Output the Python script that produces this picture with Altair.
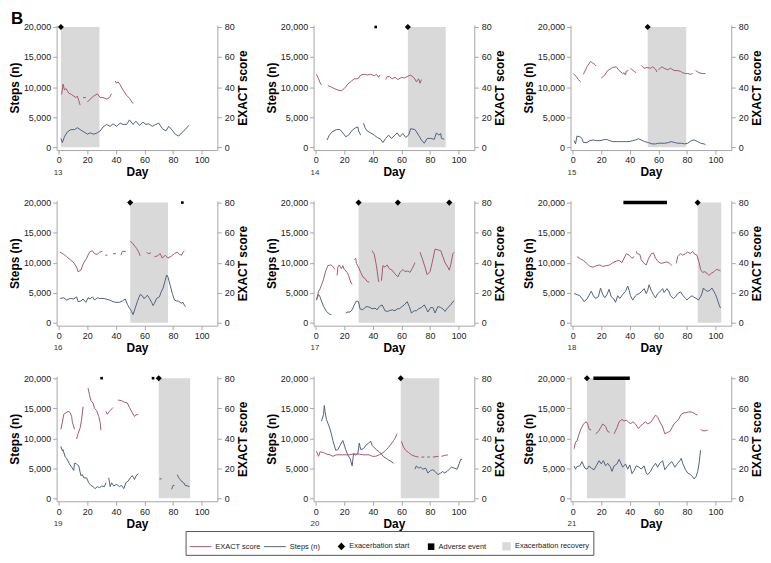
import altair as alt
import pandas as pd

# ---------------- data ----------------
PANELS = [13, 14, 15, 16, 17, 18, 19, 20, 21]

EXACT_13 = [
    [(2, 35), (3, 42), (4, 38), (5, 39), (7, 36), (9, 35), (12, 33), (13, 34), (14, 31), (15, 28)],
    [(17, 33), (19, 33)],
    [(20, 30), (22, 32), (24.5, 34), (27, 35.5), (29, 33), (31, 33), (33.5, 32), (35.5, 33), (37, 35.5)],
    [(39.5, 44), (40.5, 42.5), (41.5, 43.5), (43, 41.5), (45, 38), (47.5, 34.5), (49.5, 32.5), (52, 29)],
]
STEPS_13 = [
    [(1.5, 1460), (2.5, 760), (4, 1730), (6, 2540), (8.5, 2920), (11, 2920), (13, 3240), (15, 2920),
     (17.5, 2540), (20, 2160), (22, 2380), (24.5, 2160), (27, 2380), (29, 2700), (31, 3350), (33.5, 3780),
     (36, 3460), (38, 3890), (40.5, 3460), (43, 4000), (45, 3780), (47.5, 3780), (49.5, 4540), (52, 3780),
     (54, 4320), (56.5, 3620), (59, 4160), (61, 3780), (63, 3890), (65.5, 3460), (68, 3780), (70, 4000),
     (72.5, 3080), (75, 2700), (77, 3460), (79.5, 2810), (81.5, 2160), (84, 1840), (86, 2380), (88.5, 2920),
     (91, 3620)],
]

EXACT_14 = [
    [(0.5, 48.5), (2, 45.5), (3, 43), (4, 41.5)],
    [(8.5, 41), (11, 40), (13, 39), (15.5, 38), (18, 37.5), (20, 39), (22.5, 42), (25, 44), (27, 45.5),
     (29.5, 45.5), (31.5, 48), (34, 48.5), (36, 48), (38.5, 48.5), (41, 47.5), (42.5, 48.5), (44, 46.5), (45, 48)],
    [(49, 45), (50, 47), (51.5, 47), (53.5, 45.5), (55.5, 46.5), (57.5, 45), (60, 46.5), (62, 46), (64, 47),
     (66.5, 48), (69, 46), (70.5, 43.5), (72, 45.5), (73, 42.5), (74, 45)],
]
STEPS_14 = [
    [(8, 1190), (9.5, 2000), (11.5, 2540), (14.5, 2920), (17, 2920), (19, 2380), (21, 1730), (23, 2000),
     (25.5, 2810), (28, 3240), (29.5, 3350), (30, 2700), (31.5, 2000)],
    [(33.5, 4000), (34.5, 3240), (36, 2700), (38.5, 2380), (41, 2000), (43, 1620), (45.5, 1300), (47, 760),
     (49, 1460), (51, 2000), (53, 1460), (55.5, 2000), (57, 2380), (59, 1730), (61, 2270), (63, 1620),
     (65, 2000), (66.5, 3080), (69.5, 2920), (72, 2000), (74, 1190), (76, 650), (78, 1460), (80.5, 1460),
     (83, 1300), (84.5, 2380), (86, 2000), (87.5, 2270), (88, 1460), (90, 1300)],
]

EXACT_15 = [
    [(0.5, 49), (2.5, 47), (4, 45), (5.5, 43.5)],
    [(7.5, 48.5), (10, 53.5), (12.5, 57), (14, 56), (15.5, 55), (16.5, 54)],
    [(20, 46), (22.5, 48), (24.5, 51), (28, 53), (30.5, 53.5), (32.5, 51), (35, 49), (36, 49.5), (37, 48),
     (37.5, 50.5), (39, 51)],
    [(40.5, 52.5), (43, 50.5), (44.5, 49.5)],
    [(48, 54.5), (50, 52.5), (52, 53), (54.5, 52.5), (56, 53.5), (58, 52), (59, 50)],
    [(60, 51.5), (62.5, 53.5), (64, 52.5), (66.5, 51.5), (68.5, 52.5), (71, 51), (73, 51), (75.5, 50.5),
     (77, 49.5), (79, 49), (80.5, 49), (82.5, 48.5), (84, 49)],
    [(86, 51), (88.5, 49.5), (91, 49), (93, 49)],
]
STEPS_15 = [
    [(1, 1080), (2, 540), (3, 1840), (5, 1730), (6.5, 1460), (7.5, 760), (10, 760), (12, 1080), (14.5, 1190),
     (16.5, 1080), (19, 1080), (21, 1190), (23.5, 1300), (26, 1080), (28, 920), (30.5, 920), (32.5, 920),
     (35, 920), (37, 920), (39.5, 920), (42, 1080), (44, 1190), (46, 1400), (48, 1190), (50.5, 920), (53, 760),
     (55.5, 540), (58, 540), (60, 650), (62.5, 650), (64.5, 650), (67, 760), (69, 920), (71.5, 760),
     (73.5, 650), (76, 650), (78.5, 540), (80.5, 650), (83, 1080), (85, 1190), (87.5, 920), (89.5, 650),
     (92, 540), (93, 380)],
]

EXACT_16 = [
    [(1, 47), (3.5, 45.5), (5.5, 44), (8, 42), (10.5, 40), (12.5, 37), (13.5, 34), (15.5, 35), (17, 39),
     (19.5, 43), (21.5, 47), (23.5, 48), (25, 46), (27, 45.5), (28.5, 47), (30.5, 47.5)],
    [(32.5, 45), (34, 45)],
    [(38, 46), (40, 46)],
    [(43.5, 45), (44.5, 47.5), (47, 47.5)],
    [(50, 54.5), (52, 52.5), (54.5, 49.5), (56, 47), (57, 44.5)],
    [(61.5, 47), (62.5, 46), (64.5, 46.5)],
    [(67, 44), (69, 44.5), (71, 46), (72.5, 43), (74.5, 45), (76.5, 43), (79, 44.5), (81, 46), (83, 47),
     (84.5, 45.5), (86, 45), (87, 47), (88, 48)],
]
STEPS_16 = [
    [(1, 4050), (3.5, 4160), (5.5, 3780), (8, 4050), (10.5, 3950), (12.5, 4320), (13.5, 3510), (15.5, 3620),
     (17, 3950), (19, 3400), (20.5, 4160), (22, 3950), (23.5, 4320), (25, 3780), (27, 4160), (28.5, 4050),
     (31, 4050), (33, 3950), (35.5, 3780), (38, 3510), (40, 3400), (42.5, 3400), (44.5, 3620), (46.5, 3950),
     (48, 3080), (49.5, 2430), (51, 1890), (52, 1350), (53.5, 2430), (55, 3510), (56, 4160), (57, 4700),
     (58.5, 4490), (59.5, 4050), (60.5, 4160), (62, 4590), (63.5, 4050), (65, 3400), (66, 2860), (67, 3240),
     (68.5, 4050), (70.5, 4320), (71.5, 5030), (73, 5780), (74.5, 7030), (75.5, 7950), (76.5, 7570),
     (78, 6220), (79.5, 4860), (81, 3780), (82.5, 3620), (84, 3620), (85.5, 3240), (87, 3400), (88, 2860),
     (89, 2700)],
]

EXACT_17 = [
    [(0.5, 15), (2, 21), (3, 22.5), (4, 25), (5.5, 29), (7, 34.5), (8.5, 38), (10.5, 38.5), (11.5, 38), (13.5, 35.5)],
    [(15, 31.5), (15.5, 37), (16.5, 38.5), (18, 36), (19, 38), (20, 35.5), (22, 33.5), (23, 31.5), (24.5, 27),
     (25.5, 25.5)],
    [(27, 42), (28, 43), (28.5, 39.5), (30, 37), (31.5, 33.5), (33, 30.5), (34.5, 29.5), (36, 27.5), (37.5, 27)],
    [(39.5, 48), (41, 45.5), (42.5, 38), (44, 27.5), (44.5, 27.5)],
    [(46, 28), (47, 38), (48.5, 37), (50, 38.5), (51.5, 36), (53.5, 35), (55.5, 32.5), (57.5, 30.5), (59, 33.5),
     (61, 35.5), (62.5, 34), (64.5, 34.5), (66, 33.5), (67.5, 36), (69.5, 40)],
    [(73, 47), (74.5, 43), (76.5, 37), (78, 32), (80, 34), (81.5, 40), (83.5, 49), (85.5, 48.5), (87.5, 48),
     (89, 44), (90.5, 40), (92.5, 37), (93.5, 35), (94.5, 38.5), (96, 46), (97, 47)],
]
STEPS_17 = [
    [(0.5, 3780), (2, 4700), (3, 4320), (4, 3620), (5.5, 2700), (7.5, 1890), (9.5, 1460), (11, 1350)],
    [(21, 1620), (22.5, 1780), (24, 1780), (25.5, 2160), (27, 2970), (28.5, 3620), (30, 3510), (31, 2320),
     (33, 2160), (34.5, 2540), (36, 2700), (38, 2540), (39.5, 2320), (41.5, 2430), (43, 2160), (44.5, 2700),
     (46.5, 2970), (48.5, 2000), (50, 1890), (51.5, 2000), (53.5, 2160), (55.5, 2000), (57, 2320),
     (58.5, 2320), (60.5, 2700), (62, 2970), (64, 3510), (65.5, 2700), (67, 1620), (69, 2000), (70.5, 2000),
     (72, 2320), (74, 2540), (76, 2970), (77.5, 2320), (78.5, 1780), (80.5, 2540), (82, 2540), (83.5, 1620),
     (85.5, 2700), (87.5, 2540), (89, 2320), (90.5, 1890), (92.5, 2540), (94.5, 2970), (96, 3510), (97, 3620)],
]

EXACT_18 = [
    [(3, 44), (5.5, 42.5), (7.5, 41.5), (10, 39.5), (12, 37.5), (14.5, 37), (16.5, 38), (19, 38.5), (21, 37.5),
     (23.5, 38), (26, 38.5), (28, 40), (30.5, 41), (32.5, 41.5), (34.5, 40), (36, 43), (37.5, 46), (39.5, 45),
     (41.5, 43), (43, 44)],
    [(44.5, 47.5), (45, 46), (47, 45.5), (48, 42), (50, 39.5), (51.5, 38.5), (53, 42.5), (55, 46), (56.5, 46.5),
     (58, 43), (60, 40.5), (62, 39.5), (64, 40), (66, 40.5), (68, 39.5), (69.5, 38)],
    [(72.5, 39.5), (73.5, 44), (75.5, 46), (77, 45), (79, 46), (80.5, 47), (82.5, 46), (84, 47.5), (85, 46),
     (87, 45), (88.5, 40), (89.5, 35.5), (91, 33.5), (92.5, 34), (94, 33), (95.5, 31.5), (97, 33), (99, 34),
     (100.5, 35.5), (102.5, 35), (103.5, 34.5)],
]
STEPS_18 = [
    [(1, 4860), (3, 4700), (5, 4490), (6.5, 4050), (8, 3510), (10, 3950), (11.5, 4590), (13, 5240),
     (14.5, 4490), (16, 4050), (18, 4320), (19.5, 5780), (21, 4700), (22.5, 4160), (24, 4700), (25.5, 5570),
     (27, 4320), (28.5, 4050), (30, 3400), (31.5, 4490), (33, 4050), (35, 4700), (37, 5240), (38.5, 6110),
     (39.5, 5400), (40.5, 4490), (42, 3780), (44, 4490), (45, 4700), (46.5, 4860), (48, 5140), (50, 5680),
     (51.5, 4860), (52.5, 5400), (53.5, 6320), (55, 5400), (56.5, 4700), (58, 4160), (59.5, 4860), (61, 5140),
     (63, 5680), (64, 5030), (66, 5680), (67.5, 5140), (68.5, 4490), (70.5, 4050), (72, 4320), (73.5, 4860),
     (75.5, 5140), (77, 4590), (79, 4050), (80, 3780), (81.5, 4160), (83.5, 4490), (84.5, 4320), (86.5, 4050),
     (88, 3780), (89.5, 4320), (90.5, 4860), (91.5, 5780), (93, 5400), (94.5, 5240), (96, 5400), (97.5, 5780),
     (99, 5140), (100, 4700), (101, 4050), (102.5, 2970), (103.5, 2430)],
]

EXACT_19 = [
    [(1.5, 46), (2.5, 50.5), (3.5, 56), (5, 57), (6.5, 58), (8, 57), (9, 54.5), (9.5, 51), (11, 46)],
    [(12.5, 39.5), (13.5, 43), (15, 47), (16, 52.5), (17, 61)],
    [(20.5, 73.5), (21.5, 69), (22.5, 65), (24, 63.5), (25, 60), (26.5, 58.5), (28, 54.5), (29, 50.5), (29.5, 45.5)],
    [(33, 58), (34, 56), (35.5, 58), (37, 59.5), (38, 60.5)],
    [(41.5, 65.5), (44, 65), (46, 64), (48, 63.5), (49.5, 60.5), (51.5, 57), (53, 54.5), (54, 55.5), (55.5, 56)],
]
STEPS_19 = [
    [(1.5, 8650), (2.5, 7890), (3, 8100), (4.5, 6920), (5.5, 6650), (7.5, 5730), (9, 5190), (10.5, 4650),
     (11, 5840), (12.5, 5730), (14, 5410), (15.5, 3780), (16.5, 3950), (17.5, 3410), (19.5, 3410), (21, 2590),
     (22.5, 2160), (24, 1950), (25.5, 1620), (27, 1950), (28.5, 1780), (30, 2050), (32, 1950), (33, 2590)],
    [(35, 3410), (36, 1950), (37, 2590), (38.5, 2050), (40.5, 2320), (42.5, 1950), (44, 2160), (45.5, 1620),
     (47, 2590), (48.5, 2860), (50, 3410), (51.5, 3780), (53, 3140), (54, 3680), (55.5, 4110)],
    [(70.5, 3240), (72, 3240)],
    [(79, 1510), (80, 2160), (81, 2160)],
    [(83, 3950), (84, 3410), (85, 3140), (86.5, 2700), (87.5, 2590), (88.5, 2160), (90.5, 2050), (91.5, 1950)],
]

EXACT_20 = [
    [(0.5, 31.5), (2, 28), (3, 31), (5.5, 30.5), (7.5, 29.5), (10, 29), (12, 28), (14.5, 29), (17, 29),
     (19, 29), (21.5, 29), (23.5, 29), (26, 29.5), (28, 29.5), (30.5, 29.5), (33, 29), (35, 29), (37.5, 29),
     (39.5, 28), (42, 28), (44.5, 29), (46.5, 30), (49, 32), (51, 34), (53.5, 37), (54.5, 38.5), (55.5, 40),
     (57, 43)],
    [(60, 38), (61.5, 34), (63, 32), (65, 30.5), (67, 29), (69.5, 28), (72, 27.5)],
    [(74, 27.5), (76, 27.5)],
    [(78, 27.5), (80, 27.5)],
    [(82, 27.5), (86, 28)],
    [(88, 28), (90, 28.5), (92.5, 29)],
]
STEPS_20 = [
    [(4, 12860), (5.5, 13950), (6, 15460), (6.5, 14490), (7.5, 13140), (9.5, 11890), (11, 10700), (12, 9620),
     (14, 8000), (15.5, 8110), (17, 8810), (19, 9620), (21, 8110), (22.5, 7190), (24, 6650), (25.5, 5410),
     (26.5, 7460), (28, 7190), (29.5, 7460), (30.5, 9190), (31.5, 8110), (33.5, 8270), (35, 8810), (37, 9190),
     (38.5, 9510), (39.5, 8810), (41, 8430), (42.5, 8110), (44.5, 7730), (46, 7350), (47.5, 6920), (49.5, 6650),
     (51, 6380), (53, 6110), (54.5, 5840)],
    [(69.5, 4860), (70.5, 5410), (72, 5030), (73.5, 5190), (75, 4860), (77, 5030), (78.5, 4220), (80.5, 4650),
     (82, 4760), (83.5, 4490), (85.5, 3950), (87.5, 4220), (89, 4490), (90, 4220), (92, 4490), (93.5, 4860),
     (95, 5190), (97, 5030), (99, 4860), (100.5, 5840), (101.5, 6490), (102.5, 6490)],
]

EXACT_21 = [
    [(1, 33), (2, 37.5), (3, 38), (4, 41.5), (5.5, 45.5), (7.5, 49.5), (9.5, 51), (10.5, 49.5), (11.5, 46), (13, 45.5)],
    [(16, 43), (18, 44.5), (19.5, 47), (21, 49.5), (23, 48), (24.5, 44.5), (26, 44)],
    [(29, 43), (31, 47), (32.5, 51), (34.5, 52.5), (36, 51.5), (37.5, 52), (39, 51), (40.5, 49.5), (42, 51),
     (44, 49.5), (46, 46.5), (47.5, 48), (49, 49.5), (51, 51), (52.5, 49.5), (54.5, 50.5), (56, 52.5), (58, 55.5),
     (59.5, 54), (61, 51), (63, 47.5), (64.5, 43), (66.5, 44), (68, 44.5), (69.5, 47), (71, 49.5), (72.5, 51),
     (74, 52.5), (76, 56), (78, 57), (79.5, 57), (81, 57.5), (83, 57.5), (84.5, 57), (86, 56), (87.5, 55.5)],
    [(89.5, 46), (91, 45), (93, 45), (94.5, 45.5)],
]
STEPS_21 = [
    [(1, 5410), (2, 4860), (3, 5300), (5, 5410), (6.5, 6110), (7.5, 5570), (8.5, 5030), (10, 4860), (11.5, 5410),
     (13, 5030), (15, 4760), (16.5, 5410), (18.5, 6270), (20, 5730), (21.5, 6270), (23, 5410), (24.5, 5840),
     (26.5, 5190), (27.5, 4490), (29, 5410), (31, 5730), (32.5, 6490), (34, 5730), (35, 5190), (37, 5730),
     (38.5, 4860), (40, 5570), (41.5, 4110), (43, 4650), (44.5, 5410), (46.5, 5190), (48, 4860), (50, 5410),
     (51.5, 4220), (52.5, 3950), (54.5, 4490), (56, 5190), (58, 5840), (59.5, 5190), (61, 5840), (63, 6270),
     (64.5, 4760), (66.5, 5410), (68, 5840), (69.5, 6110), (71.5, 5190), (73.5, 5840), (75, 6270), (76, 6650),
     (77, 5840), (79, 4760), (80.5, 4220), (82.5, 3950), (84, 3570), (85, 3240), (86.5, 3680), (87.5, 4490),
     (88.5, 5840), (89.5, 8000)],
]

EXACT_SERIES = [EXACT_13, EXACT_14, EXACT_15, EXACT_16, EXACT_17, EXACT_18, EXACT_19, EXACT_20, EXACT_21]
STEPS_SERIES = [STEPS_13, STEPS_14, STEPS_15, STEPS_16, STEPS_17, STEPS_18, STEPS_19, STEPS_20, STEPS_21]

RECOVERY_START = [1.5, 64.5, 52.5, 50, 30, 87.5, 70, 59.5, 10]
RECOVERY_END = [28.5, 91, 79.5, 76.5, 97.5, 104, 92, 86.5, 37]
EXAC_START_DAYS = [[1.5], [64.5], [52.5], [50], [30, 57.5, 93.5], [87.5], [70], [59.5], [10]]
ADVERSE_DAYS = [[], [42], [], [86.5], [], [], [30, 66], [], []]
ADVERSE_SPANS = [[], [], [], [], [], [(35.5, 66)], [], [], [(14.5, 40)]]

STEPS_TOP = 20000          # events are drawn at the top of the steps axis
STEPS_TICKS = [0, 5000, 10000, 15000, 20000]
EXACT_TICKS = [0, 20, 40, 60, 80]
DAY_TICKS = [0, 20, 40, 60, 80, 100]

LEGEND_ITEMS = ["EXACT score", "Steps (n)", "Exacerbation start", "Adverse event", "Exacerbation recovery"]

# ---------------- styling ----------------
FONT = "Liberation Sans"
EXACT_COLOR = "#a5596a"
STEPS_COLOR = "#50607f"
SHADE_COLOR = "#d9d9d9"
AXIS_GRAY = "#a6a6a6"
W, H = 162, 126
X_DOM = [-1.5, 111]
S_DOM = [-484, 20322]
E_DOM = [S_DOM[0] / 250, S_DOM[1] / 250]

LEGEND_COLORS = [EXACT_COLOR, STEPS_COLOR, "black", "black", SHADE_COLOR]
LEGEND_SHAPES = [
    "M-1,-0.045H1V0.045H-1Z",
    "M-1,-0.045H1V0.045H-1Z",
    "M0.3,0L0.64,-0.36L0.98,0L0.64,0.36Z",
    "M0.38,-0.3H0.98V0.3H0.38Z",
    "M0.2,-0.38H0.98V0.38H0.2Z",
]


def seg_frame(segs, name):
    rows = []
    for i, seg in enumerate(segs):
        for d, v in seg:
            rows.append({"seg": i, "day": d, name: v})
    return pd.DataFrame(rows)


x_scale = alt.Scale(domain=X_DOM, nice=False, zero=False)
s_scale = alt.Scale(domain=S_DOM, nice=False, zero=False)
e_scale = alt.Scale(domain=E_DOM, nice=False, zero=False)

x_axis = alt.Axis(values=DAY_TICKS, title="Day")
left_axis = alt.Axis(values=STEPS_TICKS, labelExpr="format(datum.value, ',')", title="Steps (n)", titlePadding=2)
right_axis = alt.Axis(values=EXACT_TICKS, title="EXACT score", orient="right", titleAngle=270,
                      titleBaseline="top", titlePadding=3, labelPadding=3)

leg = alt.Legend(title=None, orient="none", legendX=130, legendY=510, direction="horizontal",
                 symbolSize=484, symbolStrokeWidth=0, symbolOpacity=1, labelFontSize=7.5, labelFont=FONT,
                 labelColor="#222", labelOffset=4, columnPadding=3, padding=4, strokeColor="#555",
                 fillColor="white")


def X(f):
    return alt.X(f"{f}:Q", scale=x_scale, axis=x_axis)


def YL(f):
    return alt.Y(f"{f}:Q", scale=s_scale, axis=left_axis)


def panel(i):
    pid = PANELS[i]
    layers = []
    shade = pd.DataFrame({"start": [RECOVERY_START[i]], "end": [RECOVERY_END[i]], "lo": [0], "hi": [STEPS_TOP]})
    layers.append(alt.Chart(shade).mark_rect(color=SHADE_COLOR).encode(
        x=X("start"), x2="end:Q", y=YL("lo"), y2="hi:Q"))
    steps = seg_frame(STEPS_SERIES[i], "steps")
    layers.append(alt.Chart(steps).mark_line(color=STEPS_COLOR, strokeWidth=1).encode(
        x=X("day"), y=YL("steps"), detail="seg:N", order="day:Q"))
    if ADVERSE_SPANS[i]:
        spans = pd.DataFrame({"start": [a for a, b in ADVERSE_SPANS[i]], "end": [b for a, b in ADVERSE_SPANS[i]],
                              "top": [STEPS_TOP] * len(ADVERSE_SPANS[i])})
        layers.append(alt.Chart(spans).mark_rule(color="black", strokeWidth=3.5).encode(
            x=X("start"), x2="end:Q", y=YL("top")))
    if ADVERSE_DAYS[i]:
        dots = pd.DataFrame({"day": ADVERSE_DAYS[i], "top": [STEPS_TOP] * len(ADVERSE_DAYS[i])})
        layers.append(alt.Chart(dots).mark_square(color="black", size=7, opacity=1).encode(
            x=X("day"), y=YL("top")))
    dia = pd.DataFrame({"day": EXAC_START_DAYS[i], "top": [STEPS_TOP] * len(EXAC_START_DAYS[i])})
    layers.append(alt.Chart(dia).mark_point(shape="diamond", filled=True, color="black", size=38, opacity=1).encode(
        x=X("day"), y=YL("top")))
    layers.append(alt.Chart(pd.DataFrame({"label": [str(pid)]})).mark_text(
        align="left", baseline="middle", fontSize=8, font=FONT, color="#333").encode(
        text="label:N", x=alt.value(-3), y=alt.value(H + 23)))
    if i == 0:
        layers.append(alt.Chart(pd.DataFrame({"label": ["B"]})).mark_text(
            align="left", baseline="alphabetic", fontSize=17, fontWeight="bold", font=FONT, color="black").encode(
            text="label:N", x=alt.value(-46), y=alt.value(-1)))
        layers.append(alt.Chart(pd.DataFrame({"item": LEGEND_ITEMS})).mark_point(filled=True, opacity=0).encode(
            color=alt.Color("item:N", scale=alt.Scale(domain=LEGEND_ITEMS, range=LEGEND_COLORS), legend=leg),
            shape=alt.Shape("item:N", scale=alt.Scale(domain=LEGEND_ITEMS, range=LEGEND_SHAPES), legend=leg),
        ))
    left = alt.layer(*layers)
    exact = seg_frame(EXACT_SERIES[i], "exact")
    right = alt.Chart(exact).mark_line(color=EXACT_COLOR, strokeWidth=1).encode(
        x=X("day"), y=alt.Y("exact:Q", scale=e_scale, axis=right_axis), detail="seg:N", order="day:Q")
    return alt.layer(left, right).resolve_scale(y="independent").properties(width=W, height=H)


rows = [alt.hconcat(*[panel(i) for i in range(r * 3, r * 3 + 3)], spacing=16) for r in range(3)]

chart = alt.vconcat(*rows, spacing=20).properties(
    padding={"left": 0, "top": 0, "right": 0, "bottom": 0}
).configure_view(stroke=None).configure_axis(
    labelFont=FONT, titleFont=FONT, labelFontSize=9, labelColor="#222", titleFontSize=12,
    titleFontWeight="bold", titleColor="black", domainColor=AXIS_GRAY, tickColor=AXIS_GRAY,
    tickSize=4, labelPadding=2, grid=False,
).configure_axisX(titlePadding=2)

chart.save("out.html", embed_options={"renderer": "svg", "actions": False})
